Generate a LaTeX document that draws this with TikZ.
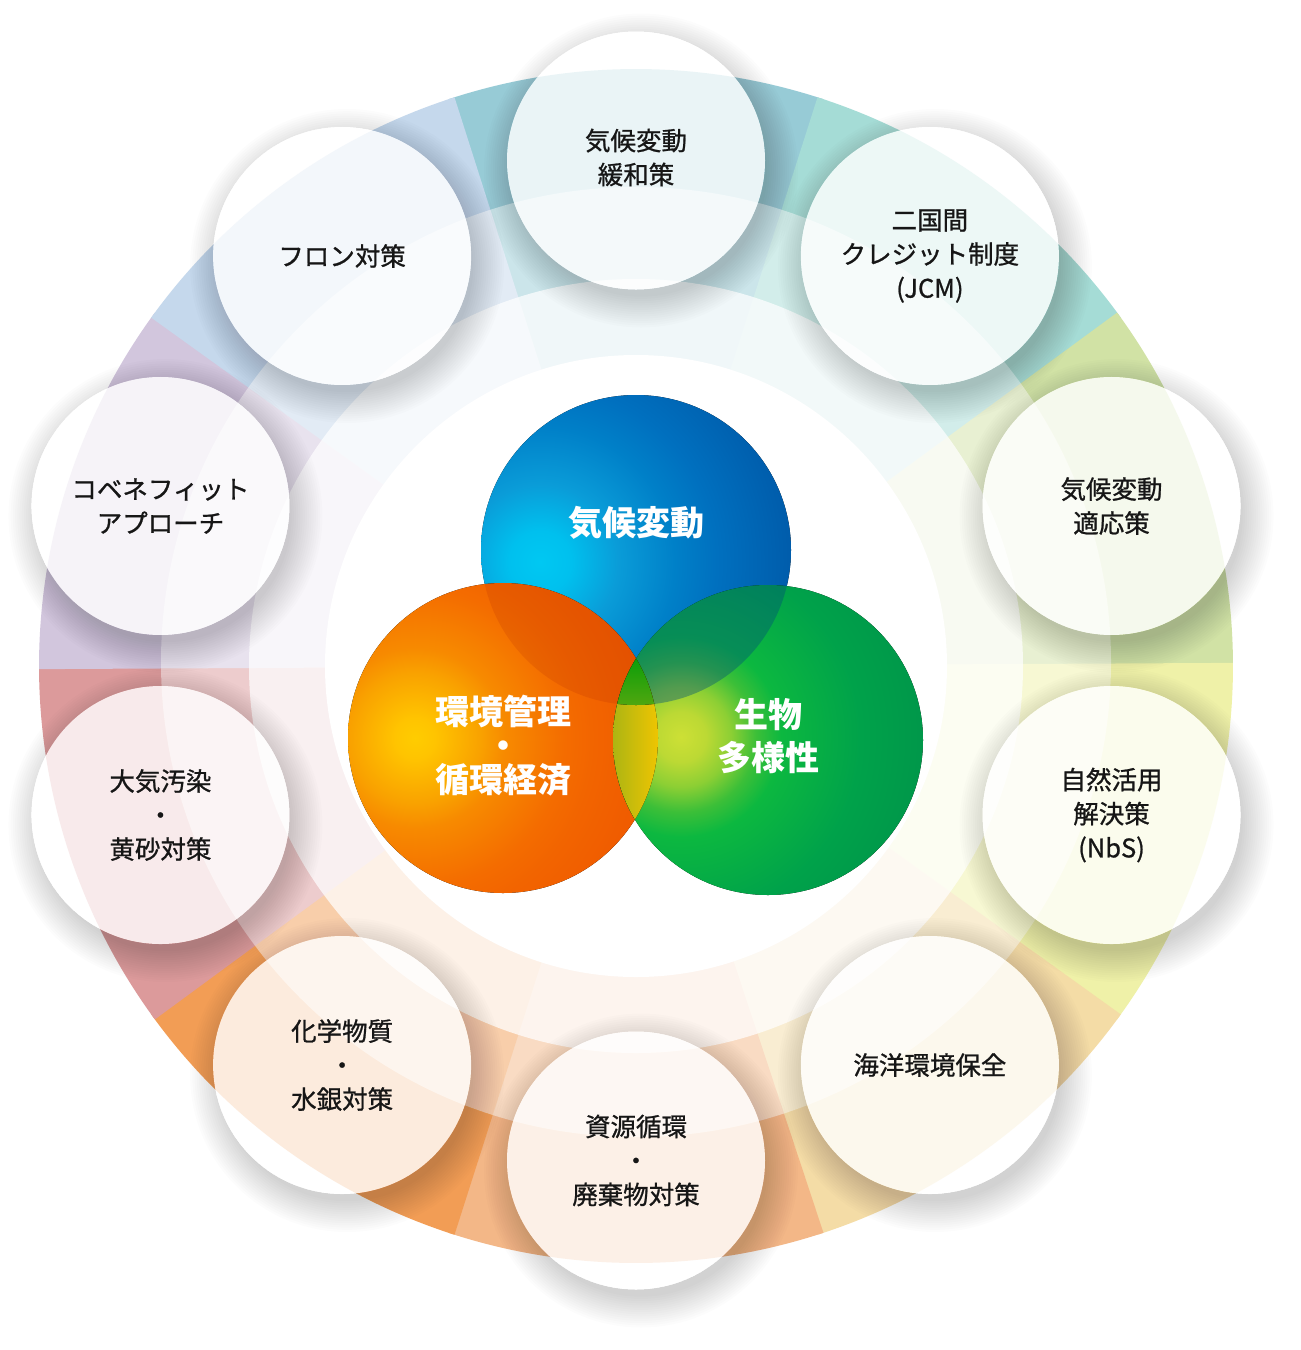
\documentclass[tikz,border=0pt]{standalone}
\usepackage{fontspec}
\newfontfamily\jp{Noto Sans CJK JP}
\newfontfamily\jpm{Noto Sans CJK JP}[RawFeature={embolden=0.9}]
\definecolor{cTeal}{HTML}{97CBD6}
\definecolor{cMint}{HTML}{A5DCD6}
\definecolor{cLGreen}{HTML}{D1E2A5}
\definecolor{cYellow}{HTML}{EFF1A8}
\definecolor{cTan}{HTML}{F4DCA6}
\definecolor{cLOrange}{HTML}{F3B787}
\definecolor{cOrange}{HTML}{F29D55}
\definecolor{cPink}{HTML}{DC9A9B}
\definecolor{cLav}{HTML}{D2C6DD}
\definecolor{cLBlue}{HTML}{C5D8EC}
\definecolor{txt}{HTML}{161616}
% blue ball
\definecolor{bA}{HTML}{00C8F2}
\definecolor{bB}{HTML}{00C0EE}
\definecolor{bC}{HTML}{0A9CD8}
\definecolor{bD}{HTML}{0080C8}
\definecolor{bE}{HTML}{0070BF}
\definecolor{bF}{HTML}{005AA9}
% orange ball
\definecolor{oA}{HTML}{FFCC00}
\definecolor{oB}{HTML}{FFC400}
\definecolor{oC}{HTML}{F9A200}
\definecolor{oD}{HTML}{F78A00}
\definecolor{oE}{HTML}{F46C00}
\definecolor{oF}{HTML}{F26400}
\definecolor{oG}{HTML}{EF5800}
% green ball
\definecolor{gA}{HTML}{CDE035}
\definecolor{gB}{HTML}{BCD934}
\definecolor{gC}{HTML}{8CCF34}
\definecolor{gD}{HTML}{3CBF38}
\definecolor{gE}{HTML}{0CB840}
\definecolor{gF}{HTML}{00A24A}
\definecolor{gG}{HTML}{00964A}
% overlaps
\definecolor{boOver}{HTML}{A01800}
\definecolor{bgOver}{HTML}{005078}
\definecolor{lensL}{HTML}{A8B414}
\definecolor{lensM}{HTML}{EAC200}
\definecolor{lensR}{HTML}{F4C600}
\definecolor{triT}{HTML}{009C08}
\definecolor{triB}{HTML}{5AA810}
\pgfdeclareradialshading{blueR}{\pgfpointorigin}{color(0bp)=(bA); color(3bp)=(bB); color(7.5bp)=(bC); color(13bp)=(bD); color(17bp)=(bE); color(25bp)=(bF); color(50bp)=(bF)}
\pgfdeclareradialshading{orangeR}{\pgfpointorigin}{color(0bp)=(oA); color(2bp)=(oB); color(6.5bp)=(oC); color(9bp)=(oD); color(15bp)=(oE); color(18bp)=(oF); color(25bp)=(oG); color(50bp)=(oG)}
\pgfdeclareradialshading{greenR}{\pgfpointorigin}{color(0bp)=(gA); color(2.5bp)=(gB); color(5bp)=(gC); color(7.5bp)=(gD); color(10bp)=(gE); color(18bp)=(gF); color(25bp)=(gG); color(50bp)=(gG)}
\begin{document}
\begin{tikzpicture}[x=1pt,y=-1pt,
  sat/.style={circle, minimum size=258pt, inner sep=0pt, fill=white, fill opacity=0.8},
  lbl/.style={font=\jpm\fontsize{25.5}{34}\selectfont, text=txt, align=center, inner sep=0pt},
  big/.style={font=\jp\bfseries\fontsize{34}{34}\selectfont, text=white, align=center, inner sep=0pt},
  venn/.style={circle, minimum size=310pt, inner sep=0pt}]
\useasboundingbox (0,0) rectangle (1301,1350);
\fill[white] (0,0) rectangle (1301,1350);
\coordinate (RC) at (636,666);
\coordinate (MC) at (636,662);
\coordinate (SC) at (636,660.5);
% coloured ring wedges
\foreach \a/\c in {90/cTeal,54/cMint,18/cLGreen,-18/cYellow,-54/cTan,-90/cLOrange,-126/cOrange,-162/cPink,162/cLav,126/cLBlue} {
  \fill[\c] (RC) -- ++({-\a-18.3}:597) arc[start angle={-\a-18.3}, end angle={-\a+18.3}, radius=597] -- cycle;
}
% lighter inner bands
\fill[white, opacity=0.5] (MC) circle (475);
\fill[white, opacity=0.72] (RC) circle (387);
\fill[white] (RC) circle (311);
% satellite positions
\foreach \a [count=\i] in {90,54,18,-18,-54,-90,-126,-162,162,126} {
  \path (SC) ++({-\a}:500) coordinate (p\i);
}
% soft shadows
\foreach \i in {1,...,10} {
  \begin{scope}[even odd rule]
    \clip (-50,-50) rectangle (1350,1400) (p\i) circle (129);
    \foreach \k in {1,...,15} {
      \fill[black, opacity=0.01] (p\i) ++(5,10) circle ({124+2.2*\k});
    }
  \end{scope}
}
% satellite discs
\foreach \i in {1,...,10} {
  \node[sat] (s\i) at (p\i) {};
}
\node[lbl] (t1) at ([yshift=3pt]s1.center) {気候変動\\緩和策};
\node[lbl] (t2) at (s2) {二国間\\クレジット制度\\(JCM)};
\node[lbl] (t3) at (s3) {気候変動\\適応策};
\node[lbl] (t4) at (s4) {自然活用\\解決策\\(NbS)};
\node[lbl] (t5) at (s5) {海洋環境保全};
\node[lbl] (t6) at (s6) {資源循環\\・\\廃棄物対策};
\node[lbl] (t7) at (s7) {化学物質\\・\\水銀対策};
\node[lbl] (t8) at (s8) {大気汚染\\・\\黄砂対策};
\node[lbl] (t9) at (s9) {コベネフィット\\アプローチ};
\node[lbl] (t10) at (s10) {フロン対策};
% Venn circles
\node[venn] (blue) at (636,550) {};
\node[venn] (orange) at (503,738) {};
\node[venn] (green) at (768,740) {};
\begin{scope}
  \clip (blue.center) circle (155);
  \fill[shading=blueR] (540,562) circle (260);
\end{scope}
\begin{scope}
  \clip (orange.center) circle (155);
  \fill[shading=orangeR] (415,738) circle (250);
\end{scope}
\begin{scope}
  \clip (green.center) circle (155);
  \fill[shading=greenR] (681,737) circle (250);
\end{scope}
\begin{scope}
  \clip (blue.center) circle (155);
  \fill[boOver, opacity=0.14] (orange.center) circle (155);
\end{scope}
\begin{scope}
  \clip (blue.center) circle (155);
  \fill[bgOver, opacity=0.4] (green.center) circle (155);
\end{scope}
\begin{scope}
  \clip (orange.center) circle (155);
  \clip (green.center) circle (155);
  \fill[left color=lensL, middle color=lensM, right color=lensR] (610,650) rectangle (662,826);
  \clip (blue.center) circle (155);
  \fill[top color=triT, bottom color=triB] (610,650) rectangle (662,712);
\end{scope}
\node[big] (vb) at (636,523) {気候変動};
\node[big] (vo) at (503,746) {環境管理\\・\\循環経済};
\node[big, font=\jp\bfseries\fontsize{34}{43}\selectfont] (vg) at (768,736.5) {生物\\多様性};
\end{tikzpicture}
\end{document}
